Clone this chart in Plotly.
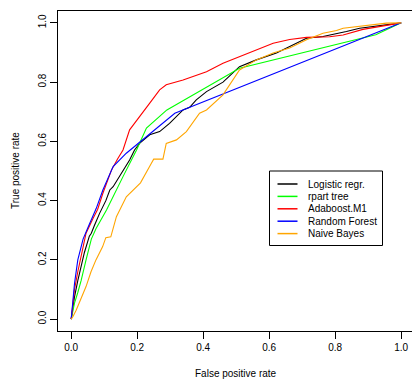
import plotly.graph_objects as go

# ---- data ----
series_names = ["Logistic regr.", "rpart tree", "Adaboost.M1", "Random Forest", "Naive Bayes"]
series_colors = ["#000000", "#00FF00", "#FF0000", "#0000FF", "#FFA500"]

logit_fpr = [0, 0.005, 0.01, 0.02, 0.03, 0.04, 0.055, 0.061, 0.07, 0.086, 0.105, 0.117, 0.127, 0.157, 0.177, 0.192,
             0.208, 0.238, 0.268, 0.298, 0.339, 0.359, 0.379, 0.41, 0.46, 0.51, 0.561, 0.622, 0.662, 0.713,
             0.763, 0.814, 0.834, 0.874, 0.955, 1.0]
logit_tpr = [0, 0.04, 0.075, 0.13, 0.177, 0.225, 0.28, 0.29, 0.315, 0.357, 0.40, 0.436, 0.447, 0.503, 0.537, 0.571,
             0.594, 0.622, 0.633, 0.661, 0.706, 0.715, 0.74, 0.768, 0.80, 0.852, 0.875, 0.898, 0.92, 0.948,
             0.954, 0.965, 0.971, 0.982, 0.993, 1.0]

rpart_fpr = [0, 0.01, 0.02, 0.03, 0.045, 0.061, 0.075, 0.107, 0.157, 0.198, 0.228, 0.29, 0.51, 0.923, 1.0]
rpart_tpr = [0, 0.054, 0.09, 0.13, 0.2, 0.27, 0.305, 0.368, 0.481, 0.571, 0.645, 0.706, 0.847, 0.96, 1.0]

ada_fpr = [0, 0.005, 0.01, 0.02, 0.03, 0.045, 0.066, 0.08, 0.096, 0.122, 0.14, 0.157, 0.177, 0.208, 0.238,
           0.268, 0.288, 0.339, 0.379, 0.41, 0.46, 0.51, 0.561, 0.612, 0.662, 0.713, 0.783, 0.824, 0.884,
           0.955, 1.0]
ada_tpr = [0, 0.05, 0.1, 0.16, 0.21, 0.29, 0.34, 0.37, 0.425, 0.503, 0.54, 0.571, 0.639, 0.683, 0.729,
           0.774, 0.791, 0.807, 0.824, 0.835, 0.864, 0.886, 0.909, 0.931, 0.944, 0.951, 0.953, 0.959, 0.978,
           0.99, 1.0]

rf_fpr = [0, 0.0055, 0.01, 0.02, 0.036, 0.055, 0.076, 0.096, 0.127, 0.167, 0.228, 0.314, 1.0]
rf_tpr = [0, 0.06, 0.12, 0.2, 0.27, 0.32, 0.374, 0.436, 0.515, 0.56, 0.616, 0.695, 1.0]

nb_fpr = [0, 0.005, 0.015, 0.025, 0.035, 0.045, 0.06, 0.075, 0.095, 0.105, 0.12, 0.137, 0.167, 0.21, 0.243,
          0.25, 0.278, 0.288, 0.319, 0.349, 0.389, 0.41, 0.46, 0.51, 0.561, 0.612, 0.662, 0.713, 0.763,
          0.804, 0.824, 0.874, 0.955, 1.0]
nb_tpr = [0, 0.008, 0.03, 0.058, 0.085, 0.11, 0.16, 0.2, 0.244, 0.275, 0.278, 0.346, 0.413, 0.46, 0.526,
          0.54, 0.54, 0.593, 0.605, 0.633, 0.695, 0.706, 0.757, 0.841, 0.875, 0.898, 0.915, 0.943, 0.965,
          0.974, 0.982, 0.988, 0.999, 1.0]

x_ticks = [0.0, 0.2, 0.4, 0.6, 0.8, 1.0]
y_ticks = [0.0, 0.2, 0.4, 0.6, 0.8, 1.0]
x_title = "False positive rate"
y_title = "True positive rate"

all_fpr = [logit_fpr, rpart_fpr, ada_fpr, rf_fpr, nb_fpr]
all_tpr = [logit_tpr, rpart_tpr, ada_tpr, rf_tpr, nb_tpr]

# ---- layout geometry (pixels) ----
W, H = 412, 379
L, R, T, B = 58, 0, 11, 48
PW, PH = W - L - R, H - T - B
FONT = "Liberation Sans, Arial, Helvetica, sans-serif"


def px(x):
    return (x - L) / PW


def py(y):
    return (H - B - y) / PH


fig = go.Figure()
for fpr, tpr, name, col in zip(all_fpr, all_tpr, series_names, series_colors):
    fig.add_trace(go.Scatter(x=fpr, y=tpr, mode="lines", name=name,
                             line=dict(color=col, width=1.1), showlegend=False))

# x range chosen so 0..1 spans 330 px, with R's 4% padding on the left
x_left = -0.04
x_right = x_left + PW / 330.0

axis_common = dict(showgrid=False, zeroline=False, showline=True, linecolor="black", linewidth=1,
                   ticks="outside", ticklen=7, tickwidth=1, tickcolor="black", automargin=False,
                   tickfont=dict(family=FONT, size=10, color="black"), tickformat=".1f")
fig.update_xaxes(range=[x_left, x_right], tickvals=x_ticks, mirror=True, **axis_common)
fig.update_yaxes(range=[-0.04, 1.04], tickvals=y_ticks, tickangle=-90, mirror=False, **axis_common)

annotations = [
    dict(text=x_title, xref="x", x=0.5, yref="paper", y=py(373), showarrow=False,
         xanchor="center", yanchor="middle", font=dict(family=FONT, size=10, color="black")),
    dict(text=y_title, xref="paper", x=px(15), yref="y", y=0.5, showarrow=False, textangle=-90,
         xanchor="center", yanchor="middle", font=dict(family=FONT, size=10, color="black")),
]
shapes = [dict(type="rect", xref="paper", yref="paper", x0=px(269.5), x1=px(382.5), y0=py(171), y1=py(245.5),
               line=dict(color="black", width=1), fillcolor="white", layer="above")]
row_y = [184, 196.4, 208.8, 221.2, 233.6]
for name, col, ry in zip(series_names, series_colors, row_y):
    shapes.append(dict(type="line", xref="paper", yref="paper", x0=px(277.5), x1=px(297.5),
                       y0=py(ry), y1=py(ry), line=dict(color=col, width=1.5), layer="above"))
    annotations.append(dict(text=name, xref="paper", yref="paper", x=px(305.5), y=py(ry), showarrow=False,
                            xanchor="left", yanchor="middle",
                            font=dict(family=FONT, size=10, color="black")))

fig.update_layout(width=W, height=H, margin=dict(l=L, r=R, t=T, b=B, pad=0, autoexpand=False),
                  plot_bgcolor="white", paper_bgcolor="white", showlegend=False,
                  annotations=annotations, shapes=shapes)

fig.write_html("out.html", config={"displayModeBar": False, "staticPlot": True},
               post_script="document.body.style.margin='0';document.body.style.overflow='hidden';")
